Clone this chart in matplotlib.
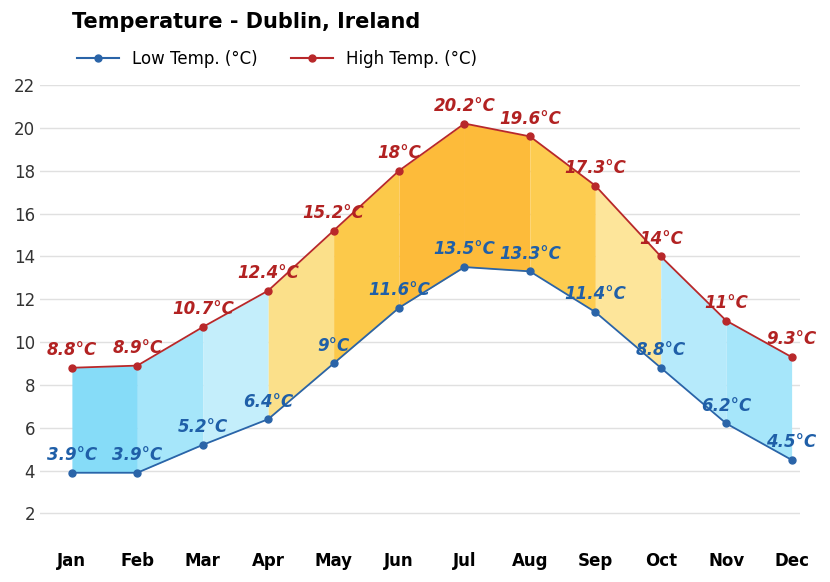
import matplotlib
matplotlib.use("Agg")
import matplotlib.pyplot as plt
from matplotlib.lines import Line2D

months = ["Jan","Feb","Mar","Apr","May","Jun","Jul","Aug","Sep","Oct","Nov","Dec"]
low = [3.9,3.9,5.2,6.4,9,11.6,13.5,13.3,11.4,8.8,6.2,4.5]
high = [8.8,8.9,10.7,12.4,15.2,18,20.2,19.6,17.3,14,11,9.3]
low_labels = ["3.9°C","3.9°C","5.2°C","6.4°C","9°C","11.6°C","13.5°C","13.3°C","11.4°C","8.8°C","6.2°C","4.5°C"]
high_labels = ["8.8°C","8.9°C","10.7°C","12.4°C","15.2°C","18°C","20.2°C","19.6°C","17.3°C","14°C","11°C","9.3°C"]
seg_colors = ["#86dcf8","#a6e6fa","#c4eefb","#fbe08a","#fcc94a","#fdbb3a","#fdbb3a","#fdcc50","#fde59a","#b6eafb","#a6e6fa","#8ee0f8"]

fig = plt.figure(figsize=(8.3,5.82), dpi=100)
ax = fig.add_axes([0.048,0.081,0.916,0.773])
x = list(range(12))
for i in range(11):
    ax.fill_between([i,i+1],[low[i],low[i+1]],[high[i],high[i+1]],color=seg_colors[i],lw=0)
ax.plot(x,low,color="#2a64a8",marker="o",ms=5,lw=1.3,zorder=3)
ax.plot(x,high,color="#b8282a",marker="o",ms=5,lw=1.3,zorder=3)
for i in x:
    ax.text(i,low[i]+0.4,low_labels[i],color="#1f5fa8",fontsize=12,fontweight="bold",style="italic",ha="center",va="bottom",zorder=4)
    ax.text(i,high[i]+0.4,high_labels[i],color="#b22222",fontsize=12,fontweight="bold",style="italic",ha="center",va="bottom",zorder=4)
ax.set_xlim(-0.49,11.13)
ax.set_ylim(1,22)
ax.set_yticks(range(2,23,2))
ax.set_xticks(x)
ax.set_xticklabels(months,fontweight="bold",fontsize=12)
ax.tick_params(axis="y",labelsize=12,length=0,colors="#333333")
ax.tick_params(axis="x",length=0,pad=12)
ax.grid(axis="y",color="#e0e0e0",lw=1)
ax.set_axisbelow(True)
for s in ax.spines.values():
    s.set_visible(False)
fig.text(0.087,0.962,"Temperature - Dublin, Ireland",fontsize=15,fontweight="bold",va="center")
h = [Line2D([],[],color="#2a64a8",marker="o",ms=5),Line2D([],[],color="#b8282a",marker="o",ms=5)]
fig.legend(h,["Low Temp. (°C)","High Temp. (°C)"],loc="center left",bbox_to_anchor=(0.075,0.899),ncol=2,frameon=False,fontsize=12,columnspacing=2,handlelength=2.5)
fig.savefig("out.png",dpi=100)
